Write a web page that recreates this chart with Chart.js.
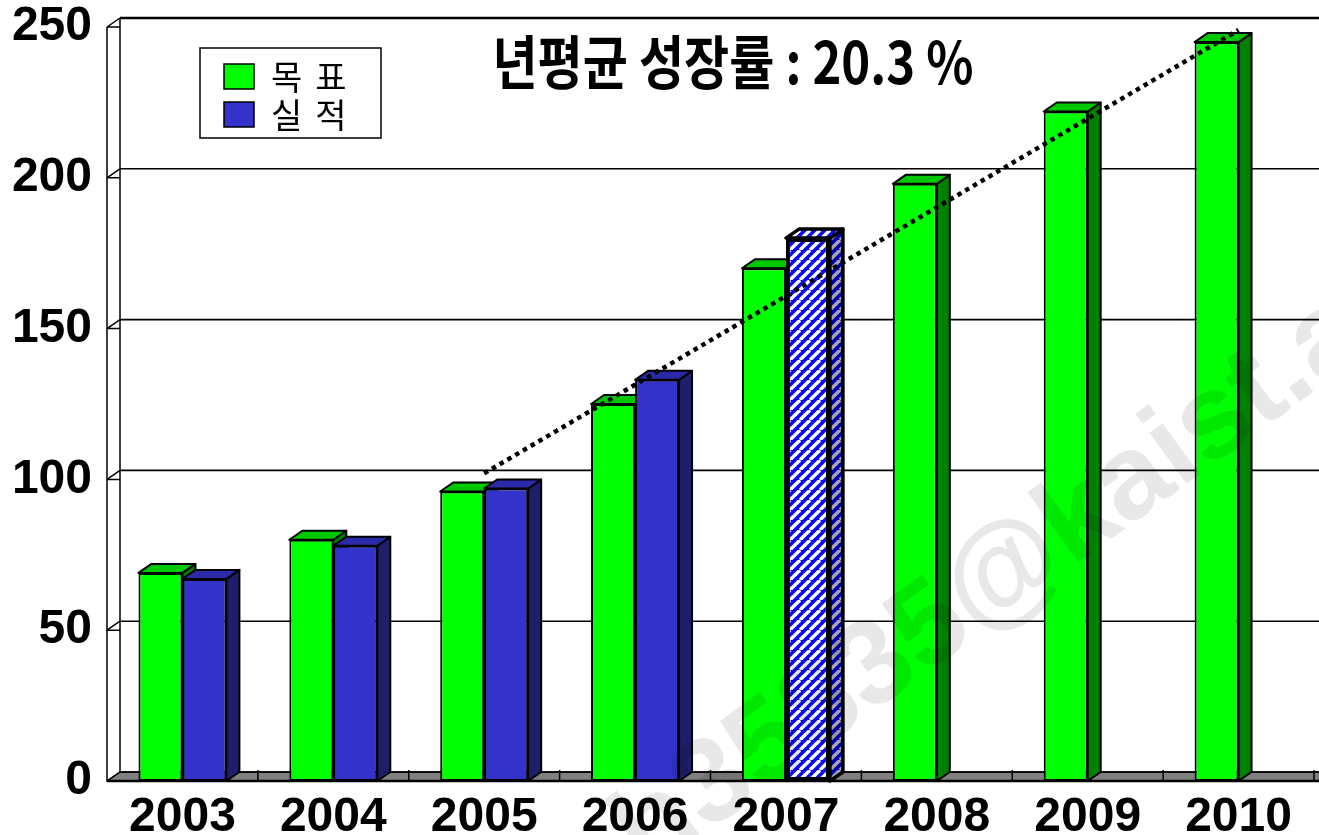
<!DOCTYPE html>
<html lang="ko">
<head>
    <meta charset="UTF-8">
    <title>목표 / 실적</title>
    <script src="https://cdn.jsdelivr.net/npm/chart.js"></script>
    <style>
        body { margin: 0; background: white; }
        #wrap { width: 1319px; height: 835px; }
    </style>
</head>
<body>
    <div id="wrap"><canvas id="chart" width="1319" height="835"></canvas></div>

    <script>
        const years = ['2003', '2004', '2005', '2006', '2007', '2008', '2009', '2010'];
        const seriesNames = ['목표', '실적'];
        const targetValues = [69, 80, 96, 125, 170, 198, 222, 245];
        const actualValues = [67, 78, 97, 133, 180, null, null, null];
        const trendValues = [null, null, 102, null, null, null, null, 249];
        const yTicks = [0, 50, 100, 150, 200, 250];
        const titleText = '년평균 성장률 : 20.3 %';
        const watermarkText = 'h35835@kaist.ac.kr';

        const DX = 13, DY = 9; // depth of the 3d look

        const canvas = document.getElementById('chart');
        const ctx = canvas.getContext('2d');

        function stripes(bg, fg) {
            const c = document.createElement('canvas');
            c.width = c.height = 10;
            const g = c.getContext('2d');
            g.fillStyle = bg;
            g.fillRect(0, 0, 10, 10);
            g.strokeStyle = fg;
            g.lineWidth = 3.4;
            for (const o of [-10, 0, 10]) {
                g.beginPath();
                g.moveTo(o, 10);
                g.lineTo(o + 10, 0);
                g.stroke();
            }
            return ctx.createPattern(c, 'repeat');
        }

        const hatchFront = stripes('#0a0af5', '#ffffff');
        const hatchSide = stripes('#0000b0', '#a8a8a8');

        // 2007 actual is the hatched (estimated) bar
        const actualFill = actualValues.map((v, i) => i === 4 ? hatchFront : '#3333cc');
        const actualBorder = actualValues.map((v, i) => i === 4 ? 4 : 2);

        const faces = [
            { top: '#00c800', side: '#008000' },
            { top: '#2b2baa', side: '#1e1e6a' }
        ];

        function poly(pts) {
            ctx.beginPath();
            ctx.moveTo(pts[0][0], pts[0][1]);
            for (let i = 1; i < pts.length; i++) ctx.lineTo(pts[i][0], pts[i][1]);
            ctx.closePath();
        }

        const wallPlugin = {
            id: 'wall',
            beforeDatasetsDraw(chart) {
                const { chartArea: a, scales: { x, y } } = chart;
                const W = chart.width;
                const yb = y.getPixelForValue(0);
                ctx.save();
                ctx.strokeStyle = '#000';
                ctx.lineJoin = 'round';

                // floor
                poly([[a.left, yb], [W + 20, yb], [W + 20, yb - DY], [a.left + DX, yb - DY]]);
                ctx.fillStyle = '#808080';
                ctx.fill();
                ctx.lineWidth = 1.5;
                ctx.stroke();

                // back wall grid + left wall
                yTicks.forEach(v => {
                    const yf = y.getPixelForValue(v);
                    ctx.lineWidth = v === yTicks[yTicks.length - 1] ? 2.5 : 1.6;
                    ctx.beginPath();
                    ctx.moveTo(a.left + DX, yf - DY);
                    ctx.lineTo(W, yf - DY);
                    ctx.stroke();
                    ctx.lineWidth = 1.5;
                    ctx.beginPath();
                    ctx.moveTo(a.left, yf);
                    ctx.lineTo(a.left + DX, yf - DY);
                    ctx.moveTo(a.left, yf);
                    ctx.lineTo(a.left + DX, yf);
                    ctx.stroke();
                });
                ctx.lineWidth = 1.5;
                ctx.beginPath();
                ctx.moveTo(a.left + DX, y.getPixelForValue(250) - DY);
                ctx.lineTo(a.left + DX, yb - DY);
                ctx.moveTo(a.left, y.getPixelForValue(250));
                ctx.lineTo(a.left, yb);
                ctx.stroke();

                // floor ticks at category boundaries
                const cw = (a.right - a.left) / years.length;
                ctx.beginPath();
                for (let i = 1; i <= years.length; i++) {
                    const xb = a.left + i * cw;
                    ctx.moveTo(xb, yb - 11);
                    ctx.lineTo(xb, yb);
                }
                ctx.stroke();
                ctx.lineWidth = 2.5;
                ctx.beginPath();
                ctx.moveTo(a.left, yb);
                ctx.lineTo(W, yb);
                ctx.stroke();

                // top and side faces of the bars (fronts are drawn by Chart.js)
                for (let j = 0; j < years.length; j++) {
                    for (let d = 0; d < 2; d++) {
                        const meta = chart.getDatasetMeta(d);
                        const el = meta.data[j];
                        const val = chart.data.datasets[d].data[j];
                        if (!el || val === null) continue;
                        const p = el.getProps(['x', 'y', 'base', 'width'], true);
                        const l = p.x - p.width / 2, r = p.x + p.width / 2;
                        const hatched = d === 1 && j === 4;
                        ctx.lineWidth = hatched ? 3.5 : 2;
                        poly([[r, p.y], [r + DX, p.y - DY], [r + DX, p.base - DY], [r, p.base]]);
                        ctx.fillStyle = hatched ? hatchSide : faces[d].side;
                        ctx.fill();
                        ctx.stroke();
                        poly([[l, p.y], [l + DX, p.y - DY], [r + DX, p.y - DY], [r, p.y]]);
                        ctx.fillStyle = hatched ? hatchFront : faces[d].top;
                        ctx.fill();
                        ctx.stroke();
                    }
                }
                ctx.restore();
            }
        };

        const decorPlugin = {
            id: 'decor',
            afterDraw(chart) {
                ctx.save();
                // legend box
                ctx.fillStyle = '#fff';
                ctx.fillRect(200, 48, 181, 90);
                ctx.strokeStyle = '#000';
                ctx.lineWidth = 1.5;
                ctx.strokeRect(200, 48, 181, 90);
                const swatch = ['#00ff00', '#3333cc'];
                ctx.font = '34px "Noto Sans CJK KR"';
                ctx.textBaseline = 'middle';
                ctx.textAlign = 'left';
                ctx.letterSpacing = '13px';
                seriesNames.forEach((name, i) => {
                    const yy = 64 + i * 38;
                    ctx.fillStyle = swatch[i];
                    ctx.fillRect(224, yy, 30, 25);
                    ctx.lineWidth = 1.5;
                    ctx.strokeRect(224, yy, 30, 25);
                    ctx.fillStyle = '#000';
                    ctx.fillText(name, 271, yy + 13);
                });
                ctx.letterSpacing = '0px';

                // title
                ctx.font = 'bold 58px "Noto Sans CJK KR"';
                ctx.textAlign = 'center';
                ctx.textBaseline = 'middle';
                const tw = ctx.measureText(titleText).width;
                ctx.save();
                ctx.translate(733, 62);
                ctx.scale(481 / tw, 1);
                ctx.fillStyle = '#000';
                ctx.fillText(titleText, 0, 0);
                ctx.restore();

                // watermark
                ctx.font = 'bold 120px "Liberation Sans"';
                ctx.textAlign = 'left';
                ctx.textBaseline = 'middle';
                const at = watermarkText.indexOf('@');
                const pre = ctx.measureText(watermarkText.slice(0, at)).width;
                const aw = ctx.measureText('@').width;
                ctx.translate(1005, 575);
                ctx.rotate(-36 * Math.PI / 180);
                ctx.fillStyle = 'rgba(0,0,0,0.09)';
                ctx.fillText(watermarkText, -(pre + aw / 2), 0);
                ctx.restore();
            }
        };

        const tickFont = { family: '"Liberation Sans", Arial, sans-serif', size: 48, weight: 'bold' };

        new Chart(ctx, {
            data: {
                labels: years,
                datasets: [
                    {
                        type: 'bar',
                        label: seriesNames[0],
                        data: targetValues,
                        backgroundColor: '#00ff00',
                        borderColor: '#000',
                        borderWidth: 2,
                        borderSkipped: false,
                        categoryPercentage: 0.583,
                        barPercentage: 1.0
                    },
                    {
                        type: 'bar',
                        label: seriesNames[1],
                        data: actualValues,
                        backgroundColor: actualFill,
                        borderColor: '#000',
                        borderWidth: actualBorder,
                        borderSkipped: false,
                        categoryPercentage: 0.583,
                        barPercentage: 1.0
                    },
                    {
                        type: 'line',
                        label: 'trend',
                        data: trendValues,
                        borderColor: '#000',
                        borderWidth: 4.5,
                        borderDash: [4.5, 4.5],
                        pointRadius: 0,
                        spanGaps: true,
                        fill: false,
                        clip: false,
                        order: -1
                    }
                ]
            },
            options: {
                responsive: false,
                devicePixelRatio: 1,
                animation: false,
                events: [],
                layout: { padding: { top: 27, right: 5, left: 0, bottom: 0 }, autoPadding: false },
                scales: {
                    x: {
                        type: 'category',
                        grid: { display: false, drawTicks: false },
                        border: { display: false },
                        ticks: { font: tickFont, color: '#000', padding: 8, maxRotation: 0, autoSkip: false },
                        afterFit(s) {
                            s.height = 54;
                            s.paddingLeft = s.paddingRight = 0;
                        }
                    },
                    y: {
                        min: 0,
                        max: 250,
                        grid: { display: false, drawTicks: false },
                        border: { display: false },
                        ticks: { font: tickFont, color: '#000', padding: 15 },
                        afterBuildTicks(s) { s.ticks = yTicks.map(v => ({ value: v })); },
                        afterFit(s) {
                            s.width = 107;
                            s.paddingTop = s.paddingBottom = 0;
                        }
                    }
                },
                plugins: {
                    legend: { display: false },
                    tooltip: { enabled: false }
                }
            },
            plugins: [wallPlugin, decorPlugin]
        });
    </script>
</body>
</html>
